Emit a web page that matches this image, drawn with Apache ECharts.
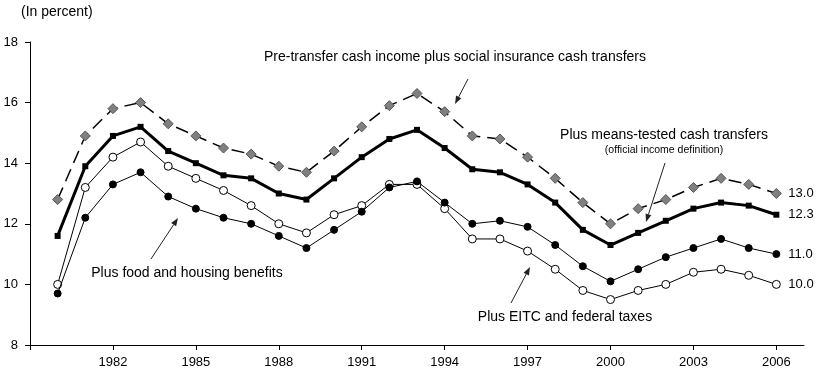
<!DOCTYPE html>
<html><head><meta charset="utf-8">
<script src="https://cdn.jsdelivr.net/npm/echarts@6/dist/echarts.min.js"></script>
<style>html,body{margin:0;padding:0;background:#fff}#c{width:817px;height:373px}</style>
</head><body><div id="c"></div>
<script>
var years = [1980,1981,1982,1983,1984,1985,1986,1987,1988,1989,1990,1991,1992,1993,1994,1995,1996,1997,1998,1999,2000,2001,2002,2003,2004,2005,2006];
var preTransfer = [12.8,14.9,15.8,16.0,15.3,14.9,14.5,14.3,13.9,13.7,14.4,15.2,15.9,16.3,15.7,14.9,14.8,14.2,13.5,12.7,12.0,12.5,12.8,13.2,13.5,13.3,13.0];
var official = [11.6,13.9,14.9,15.2,14.4,14.0,13.6,13.5,13.0,12.8,13.5,14.2,14.8,15.1,14.5,13.8,13.7,13.3,12.7,11.8,11.3,11.7,12.1,12.5,12.7,12.6,12.3];
var foodHousing = [9.7,12.2,13.3,13.7,12.9,12.5,12.2,12.0,11.6,11.2,11.8,12.4,13.2,13.4,12.7,12.0,12.1,11.9,11.3,10.6,10.1,10.5,10.9,11.2,11.5,11.2,11.0];
var eitcTaxes = [10.0,13.2,14.2,14.7,13.9,13.5,13.1,12.6,12.0,11.7,12.3,12.6,13.3,13.3,12.5,11.5,11.5,11.1,10.5,9.8,9.5,9.8,10.0,10.4,10.5,10.3,10.0];
var xTickValues = [1979,1982,1985,1988,1991,1994,1997,2000,2003,2006];
var xLabelValues = [1982,1985,1988,1991,1994,1997,2000,2003,2006];

function pairs(v){ return years.map(function(y,i){ return [y, v[i]]; }); }
var FONT = 'Arial, "Liberation Sans", sans-serif';
function endLbl(){ return {show:true, distance:12, fontSize:13, fontFamily:FONT, color:'#000',
  formatter:function(p){ return p.value[1].toFixed(1); }}; }

function arrow(x1,y1,x2,y2){
  var dx=x2-x1, dy=y2-y1, L=Math.sqrt(dx*dx+dy*dy), ux=dx/L, uy=dy/L, hl=8, hw=3;
  var bx=x2-ux*hl, by=y2-uy*hl;
  return [
    {type:'line', shape:{x1:x1,y1:y1,x2:bx,y2:by}, style:{stroke:'#222',lineWidth:1}, silent:true},
    {type:'polygon', shape:{points:[[x2,y2],[bx-uy*hw,by+ux*hw],[bx+uy*hw,by-ux*hw]]}, style:{fill:'#222'}, silent:true}
  ];
}
function txt(x,y,s,size,align){
  return {type:'text', x:x, y:y, style:{text:s, fill:'#000', font:size+'px '+FONT, align:align||'center', verticalAlign:'middle'}, silent:true};
}

var chart = echarts.init(document.getElementById('c'), null, {renderer:'canvas'});
var graphics = [
  txt(21,12,'(In percent)',14,'left'),
  txt(455,57,'Pre-transfer cash income plus social insurance cash transfers',14),
  txt(664,135,'Plus means-tested cash transfers',14),
  txt(664,150,'(official income definition)',10.5),
  txt(187,273,'Plus food and housing benefits',14),
  txt(565,317,'Plus EITC and federal taxes',14)
].concat(arrow(468,79,455,104), arrow(665,163,646,222), arrow(151,259,178,218), arrow(511,303,530,267));

chart.setOption({
  animation:false,
  backgroundColor:'#fff',
  grid:{left:30, right:13, top:42, bottom:28},
  xAxis:{type:'value', min:1979, max:2007,
    axisLine:{lineStyle:{color:'#000',width:1}},
    axisTick:{show:true, length:5, customValues:xTickValues, lineStyle:{color:'#000'}},
    axisLabel:{customValues:xLabelValues, margin:11, fontSize:13, fontFamily:FONT, color:'#000',
      formatter:function(v){ return String(v); }},
    splitLine:{show:false}},
  yAxis:{type:'value', min:8, max:18, interval:2,
    axisLine:{show:true, lineStyle:{color:'#000',width:1}},
    axisTick:{show:true, length:5, lineStyle:{color:'#000'}},
    axisLabel:{margin:12, fontSize:13, fontFamily:FONT, color:'#000'},
    splitLine:{show:false}},
  series:[
    {name:'EITC', type:'line', data:pairs(eitcTaxes), symbol:'circle', symbolSize:8, showAllSymbol:true,
      lineStyle:{color:'#000',width:1}, itemStyle:{color:'#fff',borderColor:'#000',borderWidth:1}, endLabel:endLbl(), z:3},
    {name:'Food', type:'line', data:pairs(foodHousing), symbol:'circle', symbolSize:7, showAllSymbol:true,
      lineStyle:{color:'#000',width:1}, itemStyle:{color:'#000',borderColor:'#000',borderWidth:1}, endLabel:endLbl(), z:4},
    {name:'Official', type:'line', data:pairs(official), symbol:'rect', symbolSize:6, showAllSymbol:true,
      lineStyle:{color:'#000',width:3}, itemStyle:{color:'#000'}, endLabel:endLbl(), z:5},
    {name:'Pre', type:'line', data:pairs(preTransfer), symbol:'diamond', symbolSize:10, showAllSymbol:true,
      lineStyle:{color:'#000',width:1.5,type:[13,7]}, itemStyle:{color:'#808080',borderColor:'#555',borderWidth:1}, endLabel:endLbl(), z:6}
  ],
  graphic:graphics
});
</script></body></html>
